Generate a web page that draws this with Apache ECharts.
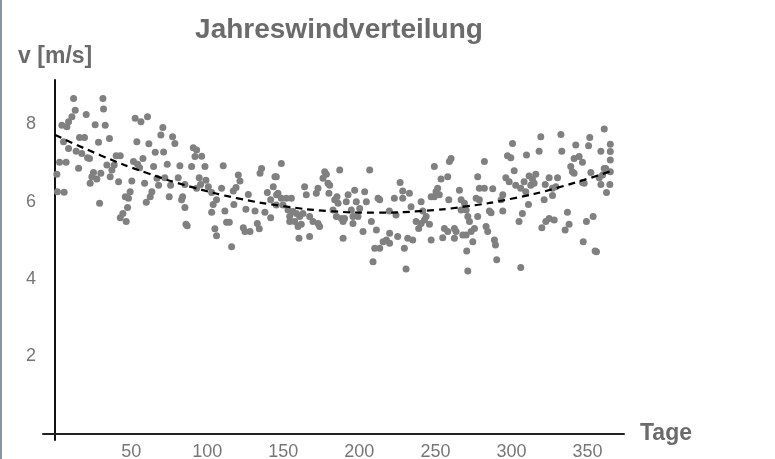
<!DOCTYPE html>
<html>
<head>
<meta charset="utf-8">
<script src="https://cdn.jsdelivr.net/npm/echarts@6/dist/echarts.min.js"></script>
<style>
html,body{margin:0;padding:0;background:#fff;}
#chart{width:775px;height:459px;}
</style>
</head>
<body>
<div id="chart"></div>
<script>
// Day of year for each measured point
const days = [
12.1,31.4,13.2,31.8,11.0,20.4,8.8,4.4,7.7,26.3,32.9,52.6,56.4,60.7,70.8,69.5,16.0,19.3,5.5,28.5,35.7,53.7,61.6,8.8,13.8,17.5,21.3,22.6,65.8,71.3,57.7,40.1,42.8,38.8,37.3,34.0,51.5,54.2,55.5,2.9,7.2,15.4,25.2,30.0,24.1,27.4,23.0,36.2,41.7,50.4,58.8,64.7,66.9,68.0,1.1,1.5,5.9,29.2,49.3,46.1,48.2,63.6,62.5,59.9,47.6,44.5,42.8,46.7,
77.2,78.7,90.8,93.0,91.9,96.3,73.7,82.0,89.7,98.5,110.5,72.1,75.9,80.9,94.7,99.1,95.6,100.7,85.3,75.0,83.8,83.1,85.3,93.0,102.9,109.4,106.1,103.9,102.9,111.6,120.4,121.5,118.9,117.1,127.0,117.5,125.4,131.4,135.7,134.7,144.5,143.4,139.5,141.7,137.9,141.7,86.0,86.8,112.7,114.5,105.0,106.1,123.7,124.8,128.1,132.9,134.2,116.0,145.6,
148.7,145.4,146.5,148.7,152.0,155.3,145.4,149.8,153.1,156.4,154.2,158.6,160.7,157.5,161.8,159.7,154.2,164.0,165.1,162.9,167.3,169.5,172.8,173.9,167.3,160.3,171.7,172.8,177.2,178.3,176.1,179.4,180.5,180.0,187.1,183.8,185.3,186.0,182.7,184.9,188.2,189.3,190.3,189.3,192.6,191.4,196.9,198.0,194.7,195.8,195.8,200.2,199.1,203.5,204.6,206.8,202.4,207.9,211.2,212.3,213.4,210.1,213.4,215.6,217.8,219.9,209.0,219.9,
219.7,224.1,223.0,226.8,228.5,228.5,232.9,234.0,225.2,229.6,231.8,235.1,230.7,237.3,239.0,240.6,241.7,243.9,242.8,246.1,247.2,240.6,247.2,249.3,250.4,252.6,251.5,249.3,253.7,258.1,260.3,259.2,258.8,255.9,258.1,254.8,262.5,263.6,262.5,265.8,266.9,266.9,269.1,270.2,271.3,272.4,268.0,270.2,273.5,275.7,274.6,270.6,271.3,277.8,278.9,282.2,287.7,282.2,276.8,277.8,278.9,285.5,286.6,283.3,284.4,288.8,289.5,290.3,293.2,294.3,294.3,
319.3,332.5,361.0,351.5,350.7,365.0,300.7,297.4,299.6,309.9,318.2,333.1,342.3,358.8,365.0,365.0,341.2,344.5,346.7,339.0,340.1,341.2,301.8,296.3,298.5,302.8,306.1,308.3,311.6,313.8,316.0,314.9,312.7,322.2,324.8,330.3,327.0,329.2,352.2,359.9,357.7,362.0,358.8,364.7,347.8,346.7,362.5,309.4,327.0,321.5,311.2,307.2,305.0,320.0,322.6,324.8,328.1,336.8,337.9,335.3,353.7,349.3,347.2,355.0,355.9,306.1,365.0,361.0
];
// Wind speed v [m/s] for each point
const speeds = [
8.67,8.67,8.37,8.40,8.20,8.26,8.07,7.98,7.94,7.99,7.98,8.16,8.07,8.20,7.92,7.73,7.66,7.66,7.55,7.54,7.64,7.55,7.50,7.38,7.31,7.25,7.14,7.12,7.28,7.29,7.12,7.19,7.19,6.95,6.82,6.95,7.04,6.97,6.88,7.02,7.02,6.87,6.76,6.74,6.65,6.59,6.48,6.65,6.52,6.54,6.48,6.91,6.61,6.43,6.71,6.26,6.25,5.96,6.26,6.13,6.09,6.26,6.13,5.99,5.85,5.70,5.59,5.49,
7.68,7.51,7.40,7.34,7.17,7.18,6.97,6.93,6.91,6.91,6.93,6.62,6.43,6.62,6.62,6.56,6.45,6.39,6.45,6.13,6.13,6.05,5.85,6.35,6.24,6.35,6.05,5.93,5.73,5.76,6.69,6.54,6.37,6.28,6.19,5.93,5.81,5.76,6.86,6.74,6.65,6.39,6.24,6.05,5.73,5.59,5.42,5.38,5.47,5.47,5.30,5.12,5.33,5.23,5.23,5.44,5.30,4.84,6.18,
6.99,6.65,6.22,6.09,6.09,6.09,5.92,5.92,5.79,5.75,5.62,5.70,5.62,5.49,5.42,5.36,5.49,6.39,6.18,5.70,5.62,5.49,5.44,5.36,5.10,5.06,6.22,6.35,6.78,6.71,6.61,6.48,6.43,6.22,6.82,6.05,6.13,5.96,5.79,5.62,5.57,5.49,5.57,5.06,6.18,6.00,6.30,6.00,5.79,5.62,5.44,5.83,5.62,6.26,6.00,6.82,5.23,5.49,5.27,6.09,6.05,4.80,4.80,4.97,5.01,4.93,4.45,5.19,
5.76,5.66,6.09,6.50,6.28,6.09,6.22,5.87,5.10,4.80,5.06,5.01,4.26,5.49,5.31,6.00,5.76,5.62,5.53,5.42,5.01,5.44,6.13,6.13,6.26,6.18,6.35,6.91,6.59,6.65,7.12,7.04,6.05,5.31,5.23,5.07,5.31,5.23,5.06,6.30,6.05,5.79,5.96,5.79,5.62,5.49,5.14,5.14,5.23,5.31,4.97,4.73,4.21,6.65,6.35,6.35,6.34,7.04,6.09,5.62,6.05,5.76,5.72,5.36,5.23,5.01,4.88,4.50,6.05,6.18,5.76,
7.68,7.74,7.88,7.66,7.45,7.49,7.51,7.19,7.14,7.21,7.31,7.31,7.47,7.31,7.30,7.08,7.12,7.17,7.02,6.91,6.78,6.74,6.80,6.62,6.52,6.43,6.35,6.52,6.67,6.59,6.71,6.48,6.43,6.45,6.62,6.62,6.35,6.39,6.76,6.69,6.62,6.86,6.45,6.45,6.48,6.50,6.24,6.26,6.16,6.05,5.93,5.70,5.49,5.33,5.49,5.57,5.53,5.73,5.42,5.27,5.62,5.49,4.97,4.73,4.71,4.30,6.78,6.86
];
// Dashed trend curve
const trendDays = [0,30,60,90,120,150,180,210,240,270,300,330,366];
const trendValues = [7.73,7.20,6.75,6.38,6.09,5.89,5.76,5.72,5.76,5.88,6.08,6.36,6.80];
const xTickLabels = [50,100,150,200,250,300,350];
const yTickLabels = [2,4,6,8];

const points = days.map((d, i) => [d, speeds[i]]);
const trend = trendDays.map((d, i) => [d, trendValues[i]]);

const FONT = '"Liberation Sans", Arial, sans-serif';
const chart = echarts.init(document.getElementById('chart'), null, {renderer: 'canvas'});
chart.setOption({
  backgroundColor: '#ffffff',
  animation: false,
  title: {
    text: 'Jahreswindverteilung',
    left: 334, top: 11,
    textAlign: 'center',
    textStyle: {fontFamily: FONT, fontSize: 28, fontWeight: 'bold', color: '#6b6b6b'}
  },
  graphic: [
    {type: 'rect', left: 0, top: 0, shape: {width: 2, height: 459}, style: {fill: '#8a93a6'}}
  ],
  grid: {left: 43, right: 151, top: 80, bottom: 19, outerBoundsMode: 'none', containLabel: false},
  xAxis: {
    type: 'value',
    min: -8, max: 374,
    splitLine: {show: false},
    axisTick: {show: false},
    axisLine: {show: true, onZero: true, lineStyle: {color: '#222', width: 2}},
    axisLabel: {customValues: xTickLabels, color: '#777', fontSize: 18, fontFamily: FONT, margin: 3},
    name: 'Tage',
    nameLocation: 'end',
    nameGap: 16,
    nameTextStyle: {fontFamily: FONT, fontSize: 23, fontWeight: 'bold', color: '#6b6b6b', verticalAlign: 'middle', padding: [2,0,0,0]}
  },
  yAxis: {
    type: 'value',
    min: -0.16, max: 9.15,
    splitLine: {show: false},
    axisTick: {show: false},
    axisLine: {show: true, onZero: true, lineStyle: {color: '#111', width: 2}},
    axisLabel: {customValues: yTickLabels, color: '#777', fontSize: 18, fontFamily: FONT, margin: 7},
    name: 'v [m/s]',
    nameLocation: 'end',
    nameGap: 12,
    nameTextStyle: {fontFamily: FONT, fontSize: 23, fontWeight: 'bold', color: '#6b6b6b', align: 'center'}
  },
  series: [
    {
      type: 'scatter',
      data: points,
      symbol: 'circle',
      symbolSize: 7,
      itemStyle: {color: '#808080', opacity: 1},
      z: 2
    },
    {
      type: 'line',
      data: trend,
      smooth: true,
      showSymbol: false,
      lineStyle: {color: '#000', width: 2.2, type: [7, 5]},
      z: 3
    }
  ]
});
</script>
</body>
</html>
